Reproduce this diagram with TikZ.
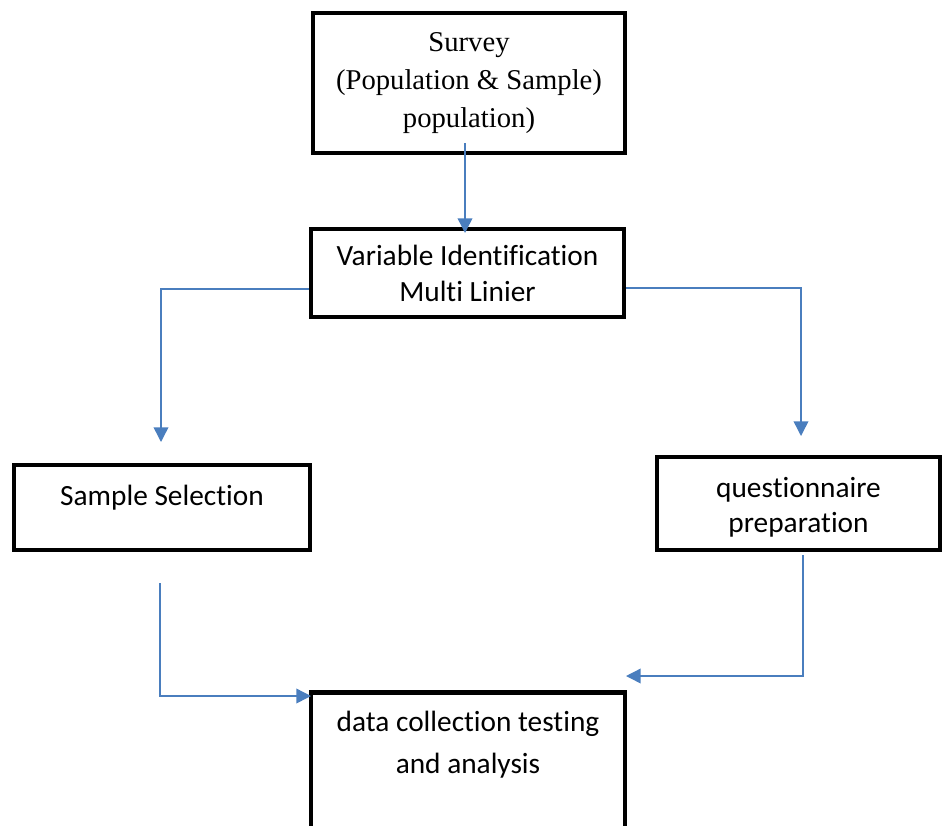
\documentclass[tikz,border=0pt]{standalone}
\usepackage{fontspec}
\setmainfont{Carlito}[Ligatures=CommonOff]
\newfontfamily\serifbox{Liberation Serif}
\usetikzlibrary{arrows.meta}
\definecolor{flowblue}{RGB}{74,126,190}
\tikzset{
  box/.style={draw=black, line width=3.4pt, rectangle, fill=white, align=center,
    inner sep=0pt, font=\fontsize{22}{27}\selectfont},
  flow/.style={draw=flowblue, line width=1.1pt, -{Triangle[width=11pt,length=11pt]}}
}
\begin{document}
\begin{tikzpicture}[x=0.75pt, y=-0.75pt]
			% Cadre
			\clip (0,0) rectangle (945,825);

			% Boites
			\node[box, minimum width=234pt, minimum height=105pt,
			      font=\serifbox\fontsize{21.5}{28.5}\selectfont] (survey) at (469,83)
			      {Survey\\(Population \& Sample)\\population)};
			\node[box, minimum width=235pt, minimum height=66pt] (var) at (467.5,273)
			      {Variable Identification\\Multi Linier};
			\node[box, minimum width=222pt, minimum height=64pt] (sample) at (162,507.5) {};
			\node[box, minimum width=212pt, minimum height=70pt] (quest) at (798.5,503.5) {};
			\node[box, minimum width=235.5pt, minimum height=150pt, anchor=north] (data) at (468,690) {};

			% Textes
			\node[font=\fontsize{22}{27}\selectfont] (sampletxt) at (162,498) {Sample Selection};
			\node[align=center, font=\fontsize{22}{26}\selectfont] (questtxt) at (798.5,507)
			      {questionnaire\\preparation};
			\node[align=center, font=\fontsize{22}{31.5}\selectfont] (datatxt) at (468,745)
			      {data collection testing\\and analysis};

			% Points de passage
			\coordinate (a1) at (465,143);
			\coordinate (a2) at (465,233);
			\coordinate (bL) at (161,289);
			\coordinate (bLend) at (161,442);
			\coordinate (bR) at (801,288);
			\coordinate (bRend) at (801,436);
			\coordinate (cL) at (160,583);
			\coordinate (cLmid) at (160,696);
			\coordinate (cLend) at (311,696);
			\coordinate (cR) at (803,555);
			\coordinate (cRmid) at (803,676);
			\coordinate (cRend) at (626,676);

			% Fleches
			\draw[flow] (a1) -- (a2);
			\draw[flow] (var.west |- bL) -- (bL) -- (bLend);
			\draw[flow] (var.east |- bR) -- (bR) -- (bRend);
			\draw[flow] (cL) -- (cLmid) -- (cLend);
			\draw[flow] (cR) -- (cRmid) -- (cRend);

		\end{tikzpicture}
\end{document}
